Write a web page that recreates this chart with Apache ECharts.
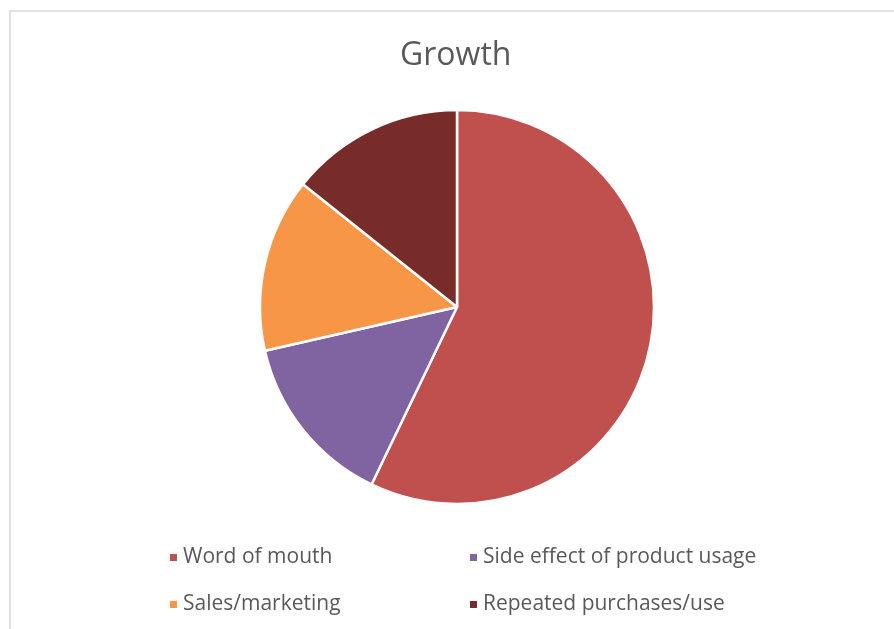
<!DOCTYPE html>
<html>
<head>
<meta charset="utf-8">
<script src="https://cdn.jsdelivr.net/npm/echarts@6/dist/echarts.min.js"></script>
<style>
  html, body { margin: 0; padding: 0; background: #fff; }
  #chart { width: 894px; height: 629px; }
</style>
</head>
<body>
<div id="chart"></div>
<script>
// Sources of growth and their shares
const categories = ['Word of mouth', 'Side effect of product usage', 'Sales/marketing', 'Repeated purchases/use'];
const values = [4, 1, 1, 1];
const colors = ['#C0504D', '#8064A2', '#F79646', '#772C2A'];

const FONT = '"Open Sans", sans-serif';
const chart = echarts.init(document.getElementById('chart'));

const legendText = { fontFamily: FONT, fontSize: 21, color: '#595959' };

chart.setOption({
  backgroundColor: '#ffffff',
  animation: false,
  title: {
    text: 'Growth',
    left: 400,
    top: 40,
    padding: 0,
    textStyle: { fontFamily: FONT, fontSize: 32, fontWeight: 'normal', color: '#595959' }
  },
  graphic: [{
    type: 'rect',
    shape: { x: 10, y: 11, width: 900, height: 640 },
    style: { fill: 'none', stroke: '#d9d9d9', lineWidth: 1.5 },
    silent: true,
    z: -1
  }],
  legend: [
    {
      orient: 'vertical',
      left: 163,
      top: 542,
      itemGap: 26,
      itemWidth: 9,
      itemHeight: 9,
      icon: 'rect',
      data: [categories[0], categories[2]],
      textStyle: legendText
    },
    {
      orient: 'vertical',
      left: 463,
      top: 542,
      itemGap: 26,
      itemWidth: 9,
      itemHeight: 9,
      icon: 'rect',
      data: [categories[1], categories[3]],
      textStyle: legendText
    }
  ],
  series: [{
    type: 'pie',
    center: [457, 307],
    radius: [0, 197],
    startAngle: 90,
    clockwise: true,
    label: { show: false },
    labelLine: { show: false },
    itemStyle: { borderColor: '#ffffff', borderWidth: 2.5 },
    emphasis: { disabled: true },
    data: categories.map((name, i) => ({
      name: name,
      value: values[i],
      itemStyle: { color: colors[i] }
    }))
  }]
});
</script>
</body>
</html>
